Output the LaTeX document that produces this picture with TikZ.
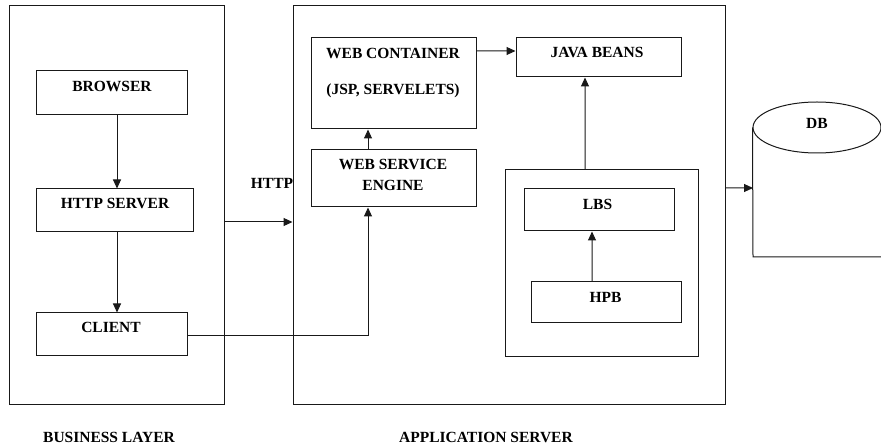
\documentclass[tikz,border=0pt]{standalone}
\usepackage{fontspec}
\setmainfont{Liberation Serif}
\usetikzlibrary{arrows.meta,shapes.geometric}
\begin{document}
\begin{tikzpicture}[x=1bp,y=-1bp,
  line width=1bp, draw=black!90,
  box/.style={draw, rectangle, inner sep=0pt},
  lbl/.style={font=\fontsize{15.5bp}{18bp}\selectfont\bfseries, inner sep=0pt, text=black},
  arr/.style={-{Triangle[length=9bp,width=8bp]}}]
\useasboundingbox (0,0) rectangle (881,447);
\clip (0,0) rectangle (881,447);
% containers
\node[box, minimum width=214bp, minimum height=398bp] (bl) at (117,205) {};
\node[box, minimum width=432bp, minimum height=398bp] (app) at (509,205) {};
% business layer
\node[box, minimum width=150bp, minimum height=44bp] (browser) at (112,93) {};
\node[lbl] at (112,86) {BROWSER};
\node[box, minimum width=156bp, minimum height=43bp] (http) at (115,210.5) {};
\node[lbl] at (115,203) {HTTP SERVER};
\node[box, minimum width=150bp, minimum height=43bp] (client) at (112,334.5) {};
\node[lbl] at (111,327) {CLIENT};
% application server
\node[box, minimum width=165bp, minimum height=91bp] (wc) at (393.5,83.5) {};
\node[lbl] at (393,53) {WEB CONTAINER};
\node[lbl] at (393,91) {(JSP, SERVELETS)};
\node[box, minimum width=165bp, minimum height=39bp] (jb) at (598.5,57.5) {};
\node[lbl] at (597,52) {JAVA BEANS};
\node[box, minimum width=165bp, minimum height=57bp] (wse) at (393.5,178.5) {};
\node[lbl] at (393,164) {WEB SERVICE};
\node[lbl] at (393,185) {ENGINE};
\node[box, minimum width=193bp, minimum height=186bp] (outer) at (601.5,263) {};
\node[box, minimum width=150bp, minimum height=42bp] (lbs) at (599,210) {};
\node[lbl] at (597.5,204) {LBS};
\node[box, minimum width=150bp, minimum height=41bp] (hpb) at (606,302.5) {};
\node[lbl] at (605.5,297) {HPB};
% DB
\node[draw, ellipse, inner sep=0pt, minimum width=128bp, minimum height=51bp] (db) at (817,127.5) {};
\node[lbl] at (817,123) {DB};
\coordinate (dbbot) at (753,257);
\coordinate (dbend) at (890,257);
\coordinate (dbin) at (753,188);
\draw (db.west) -- (dbbot) -- (dbend);
% titles
\node[lbl] at (109,437) {BUSINESS LAYER};
\node[lbl] at (486,437) {APPLICATION SERVER};
\node[lbl] at (272,183) {HTTP};
% connectors
\draw[arr] ([xshift=5bp]browser.south) -- ([xshift=5bp]browser.south |- http.north);
\draw[arr] ([xshift=5bp]browser.south |- http.south) -- ([xshift=5bp]browser.south |- client.north);
\draw[arr] ([yshift=-17bp]bl.east) -- ([yshift=-17bp]app.west);
\draw[arr] ([yshift=-1.5bp]client.east) -| ([xshift=-25.5bp]wse.south);
\draw[arr] ([xshift=-25.5bp]wse.north) -- ([xshift=-25.5bp]wc.south);
\draw[arr] ([yshift=32.5bp]wc.east) -- ([yshift=6.5bp]jb.west);
\draw[arr] ([xshift=-16.5bp]outer.north) -- ([xshift=-13.5bp]jb.south);
\draw[arr] ([xshift=-14bp]hpb.north) -- ([xshift=-7bp]lbs.south);
\draw[arr] ([yshift=17bp]app.east) -- (dbin);
\end{tikzpicture}
\end{document}
